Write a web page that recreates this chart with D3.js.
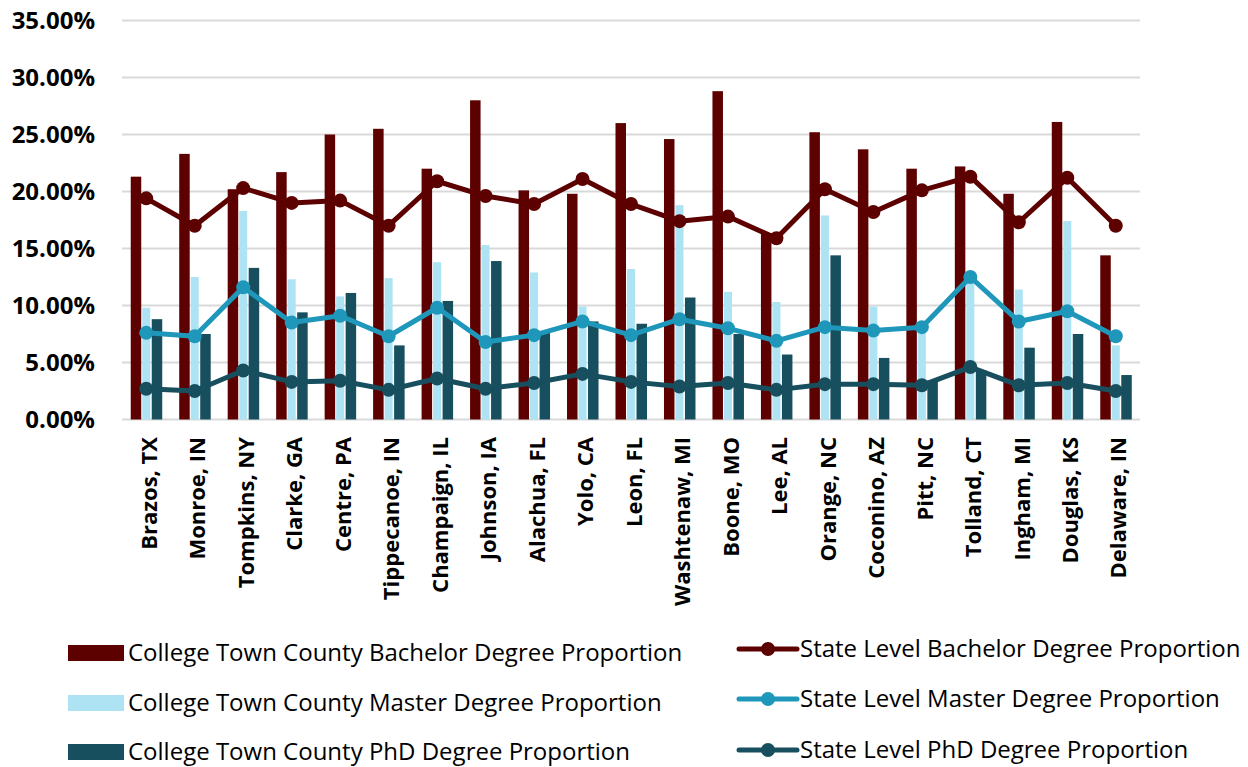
<!DOCTYPE html>
<html>
<head>
<meta charset="utf-8">
<script src="https://cdn.jsdelivr.net/npm/d3@7"></script>
<style>
  body { margin: 0; background: #fff; }
  text { font-family: "Open Sans", sans-serif; fill: #000; }
</style>
</head>
<body>
<script>
// data
const counties = ["Brazos, TX", "Monroe, IN", "Tompkins, NY", "Clarke, GA", "Centre, PA", "Tippecanoe, IN",
  "Champaign, IL", "Johnson, IA", "Alachua, FL", "Yolo, CA", "Leon, FL", "Washtenaw, MI", "Boone, MO",
  "Lee, AL", "Orange, NC", "Coconino, AZ", "Pitt, NC", "Tolland, CT", "Ingham, MI", "Douglas, KS", "Delaware, IN"]

const countyBachelor = [21.3, 23.3, 20.2, 21.7, 25.0, 25.5, 22.0, 28.0, 20.1, 19.8, 26.0, 24.6, 28.8, 16.3, 25.2, 23.7, 22.0, 22.2, 19.8, 26.1, 14.4]
const countyMaster = [9.8, 12.5, 18.3, 12.3, 10.8, 12.4, 13.8, 15.3, 12.9, 9.9, 13.2, 18.8, 11.2, 10.3, 17.9, 9.9, 8.0, 12.8, 11.4, 17.4, 6.5]
const countyPhD = [8.8, 7.5, 13.3, 9.4, 11.1, 6.5, 10.4, 13.9, 7.6, 8.6, 8.4, 10.7, 7.5, 5.7, 14.4, 5.4, 3.4, 4.3, 6.3, 7.5, 3.9]

const stateBachelor = [19.4, 17.0, 20.3, 19.0, 19.2, 17.0, 20.9, 19.6, 18.9, 21.1, 18.9, 17.4, 17.8, 15.9, 20.2, 18.2, 20.1, 21.3, 17.3, 21.2, 17.0]
const stateMaster = [7.6, 7.3, 11.6, 8.5, 9.1, 7.3, 9.8, 6.8, 7.4, 8.6, 7.4, 8.8, 8.0, 6.9, 8.1, 7.8, 8.1, 12.5, 8.6, 9.5, 7.3]
const statePhD = [2.7, 2.5, 4.3, 3.3, 3.4, 2.6, 3.6, 2.7, 3.2, 4.0, 3.3, 2.9, 3.2, 2.6, 3.1, 3.1, 3.0, 4.6, 3.0, 3.2, 2.5]

const yTicks = [0, 5, 10, 15, 20, 25, 30, 35]

const barSeries = [
  { name: "College Town County Bachelor Degree Proportion", values: countyBachelor, color: "#5c0000" },
  { name: "College Town County Master Degree Proportion", values: countyMaster, color: "#aee3f3" },
  { name: "College Town County PhD Degree Proportion", values: countyPhD, color: "#174f5e" }
]
const lineSeries = [
  { name: "State Level Bachelor Degree Proportion", values: stateBachelor, color: "#5c0000" },
  { name: "State Level Master Degree Proportion", values: stateMaster, color: "#1f97bb" },
  { name: "State Level PhD Degree Proportion", values: statePhD, color: "#174f5e" }
]

const w = 1248
const h = 767

const svg = d3.select("body")
  .append("svg")
  .attr("width", w)
  .attr("height", h)

// scales
const xScale = d3.scaleBand()
  .domain(counties)
  .range([122, 1140])

const yScale = d3.scaleLinear()
  .domain([0, 35])
  .range([419.5, 20.5])

// gridlines
svg.append("g")
  .selectAll("line")
  .data(yTicks)
  .enter()
  .append("line")
  .attr("x1", 122)
  .attr("x2", 1140)
  .attr("y1", d => yScale(d))
  .attr("y2", d => yScale(d))
  .attr("stroke", "#d9d9d9")
  .attr("stroke-width", 2)

// y axis labels
const yAxis = d3.axisLeft(yScale)
  .tickValues(yTicks)
  .tickFormat(d => d.toFixed(2) + "%")
  .tickSize(0)
  .tickPadding(0)

const gy = svg.append("g")
  .attr("transform", "translate(95,0)")
  .call(yAxis)
gy.select(".domain").remove()
gy.selectAll("text")
  .style("font-family", "'Open Sans', sans-serif")
  .style("font-size", "24px")
  .style("font-weight", "bold")
  .attr("fill", "#000")

// bars: bachelor | master (narrow) | phd
const barOffsets = [-15.5, -4, 5.5]
const barWidths = [10.5, 8, 10.5]
barSeries.forEach((s, i) => {
  svg.append("g")
    .selectAll("rect")
    .data(s.values)
    .enter()
    .append("rect")
    .attr("x", (d, j) => xScale(counties[j]) + xScale.bandwidth() / 2 + barOffsets[i])
    .attr("width", barWidths[i])
    .attr("y", d => yScale(d))
    .attr("height", d => yScale(0) - yScale(d))
    .attr("fill", s.color)
})

// lines with dots
const lineGen = d3.line()
  .x((d, j) => xScale(counties[j]) + xScale.bandwidth() / 2)
  .y(d => yScale(d))

lineSeries.forEach(s => {
  svg.append("path")
    .datum(s.values)
    .attr("d", lineGen)
    .attr("fill", "none")
    .attr("stroke", s.color)
    .attr("stroke-width", 5)
    .attr("stroke-linejoin", "round")
  svg.append("g")
    .selectAll("circle")
    .data(s.values)
    .enter()
    .append("circle")
    .attr("cx", (d, j) => xScale(counties[j]) + xScale.bandwidth() / 2)
    .attr("cy", d => yScale(d))
    .attr("r", 7)
    .attr("fill", s.color)
})

// category labels
svg.append("g")
  .selectAll("text")
  .data(counties)
  .enter()
  .append("text")
  .attr("transform", d => "translate(" + (xScale(d) + xScale.bandwidth() / 2 + 3) + ",437) rotate(-90)")
  .attr("text-anchor", "end")
  .attr("dy", "0.35em")
  .style("font-size", "22px")
  .style("font-weight", "bold")
  .text(d => d)

// legend
const rowsY = [653, 703, 752]
barSeries.forEach((s, i) => {
  svg.append("rect")
    .attr("x", 68)
    .attr("y", rowsY[i] - 8)
    .attr("width", 56)
    .attr("height", 16)
    .attr("fill", s.color)
  svg.append("text")
    .attr("x", 128)
    .attr("y", rowsY[i])
    .attr("dy", "0.35em")
    .style("font-size", "24px")
    .attr("fill", "#222")
    .text(s.name)
})
const rowsY2 = [649, 699, 750]
lineSeries.forEach((s, i) => {
  svg.append("line")
    .attr("x1", 739)
    .attr("x2", 797)
    .attr("y1", rowsY2[i])
    .attr("y2", rowsY2[i])
    .attr("stroke", s.color)
    .attr("stroke-width", 5)
    .attr("stroke-linecap", "round")
  svg.append("circle")
    .attr("cx", 768)
    .attr("cy", rowsY2[i])
    .attr("r", 7)
    .attr("fill", s.color)
  svg.append("text")
    .attr("x", 800)
    .attr("y", rowsY2[i])
    .attr("dy", "0.35em")
    .style("font-size", "24px")
    .attr("fill", "#222")
    .text(s.name)
})
</script>
</body>
</html>
